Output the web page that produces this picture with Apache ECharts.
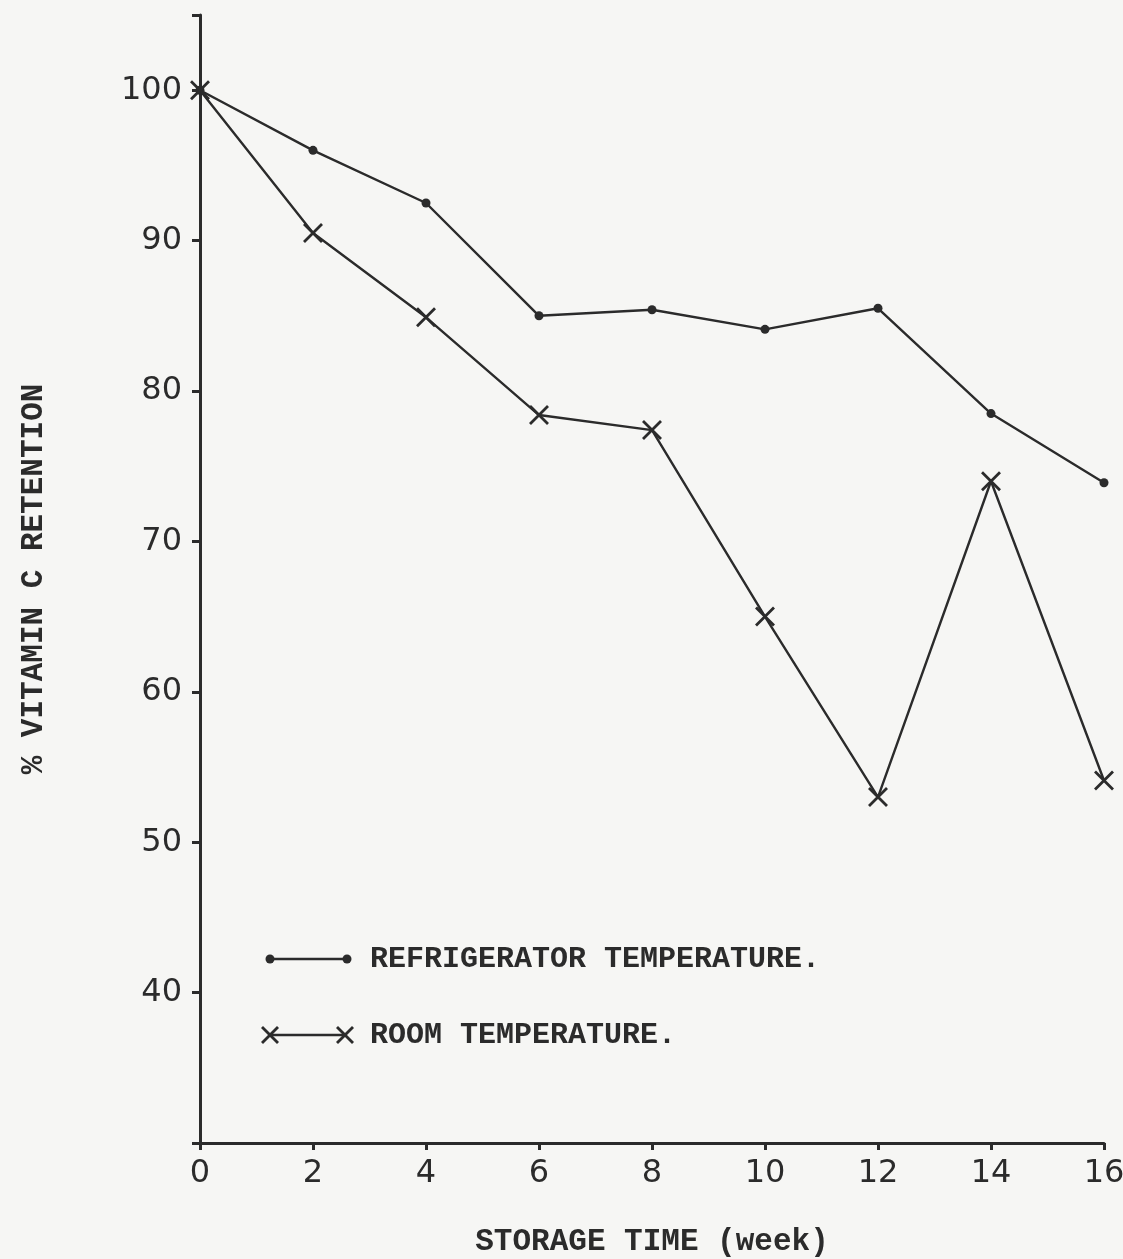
<!DOCTYPE html>
<html>
<head>
<meta charset="utf-8">
<script src="https://cdn.jsdelivr.net/npm/echarts@6/dist/echarts.min.js"></script>
<style>
html,body{margin:0;padding:0;background:#f6f6f4;}
#chart{width:1123px;height:1259px;}
</style>
</head>
<body>
<div id="chart"></div>
<script>
const weeks = [0, 2, 4, 6, 8, 10, 12, 14, 16];
const refrigerator = [100, 96.0, 92.5, 85.0, 85.4, 84.1, 85.5, 78.5, 73.9];
const room = [100, 90.5, 84.9, 78.4, 77.4, 65.0, 53.0, 74.0, 54.1];
const yTicks = [40, 50, 60, 70, 80, 90, 100];
const xTicks = [0, 2, 4, 6, 8, 10, 12, 14, 16];
const legendNames = ['REFRIGERATOR TEMPERATURE.', 'ROOM TEMPERATURE.'];

const ink = '#2b2b2b';
const monoFont = '"Liberation Mono", "DejaVu Sans Mono", monospace';
const crossPath = 'path://M0,0L10,10M10,0L0,10';

function cross(cx, cy, h) {
  return [
    {type: 'line', shape: {x1: cx - h, y1: cy - h, x2: cx + h, y2: cy + h}, style: {stroke: ink, lineWidth: 2.8}},
    {type: 'line', shape: {x1: cx + h, y1: cy - h, x2: cx - h, y2: cy + h}, style: {stroke: ink, lineWidth: 2.8}}
  ];
}

const chart = echarts.init(document.getElementById('chart'), null, {renderer: 'canvas'});
chart.setOption({
  backgroundColor: '#f6f6f4',
  animation: false,
  grid: {left: 200, right: 19, top: 15, bottom: 116, containLabel: false, outerBoundsMode: 'none'},
  xAxis: {
    type: 'value', min: 0, max: 16, interval: 2,
    name: 'STORAGE TIME (week)', nameLocation: 'middle', nameGap: 84,
    nameTextStyle: {fontFamily: monoFont, fontSize: 31, fontWeight: 'bold', color: ink},
    axisLine: {show: true, lineStyle: {color: ink, width: 3}},
    axisTick: {show: true, inside: false, length: 7, lineStyle: {color: ink, width: 3}},
    axisLabel: {
      fontFamily: '"DejaVu Sans", sans-serif', fontSize: 32, color: ink, margin: 15,
      formatter: v => (xTicks.indexOf(v) >= 0 ? String(v) : '')
    },
    splitLine: {show: false}
  },
  yAxis: {
    type: 'value', min: 30, max: 105, interval: 10,
    name: '% VITAMIN C RETENTION', nameLocation: 'middle', nameGap: 150, nameRotate: 90,
    nameTextStyle: {fontFamily: monoFont, fontSize: 31, fontWeight: 'bold', color: ink},
    axisLine: {show: true, lineStyle: {color: ink, width: 3}},
    axisTick: {show: true, inside: false, length: 8, lineStyle: {color: ink, width: 3}},
    axisLabel: {
      fontFamily: '"DejaVu Sans", sans-serif', fontSize: 32, color: ink, margin: 18,
      formatter: v => (yTicks.indexOf(v) >= 0 ? String(v) : '')
    },
    splitLine: {show: false}
  },
  series: [
    {
      name: legendNames[0], type: 'line',
      data: weeks.map((w, i) => [w, refrigerator[i]]),
      symbol: 'circle', symbolSize: 9,
      lineStyle: {color: ink, width: 2.4},
      itemStyle: {color: ink},
      z: 3
    },
    {
      name: legendNames[1], type: 'line',
      data: weeks.map((w, i) => [w, room[i]]),
      symbol: crossPath, symbolSize: 18, symbolKeepAspect: true,
      lineStyle: {color: ink, width: 2.4},
      itemStyle: {color: 'rgba(0,0,0,0)', borderColor: ink, borderWidth: 2.8},
      z: 3
    }
  ],
  graphic: [
    {type: 'line', shape: {x1: 270, y1: 959, x2: 347, y2: 959}, style: {stroke: ink, lineWidth: 2.4}},
    {type: 'circle', shape: {cx: 270, cy: 959, r: 4.5}, style: {fill: ink}},
    {type: 'circle', shape: {cx: 347, cy: 959, r: 4.5}, style: {fill: ink}},
    {type: 'text', x: 370, y: 959, style: {text: legendNames[0], font: 'bold 30px ' + monoFont, fill: ink, textVerticalAlign: 'middle', verticalAlign: 'middle'}},
    {type: 'line', shape: {x1: 270, y1: 1035, x2: 345, y2: 1035}, style: {stroke: ink, lineWidth: 2.4}}
  ].concat(cross(270, 1035, 8), cross(345, 1035, 8), [
    {type: 'text', x: 370, y: 1035, style: {text: legendNames[1], font: 'bold 30px ' + monoFont, fill: ink, textVerticalAlign: 'middle', verticalAlign: 'middle'}}
  ])
});
</script>
</body>
</html>
